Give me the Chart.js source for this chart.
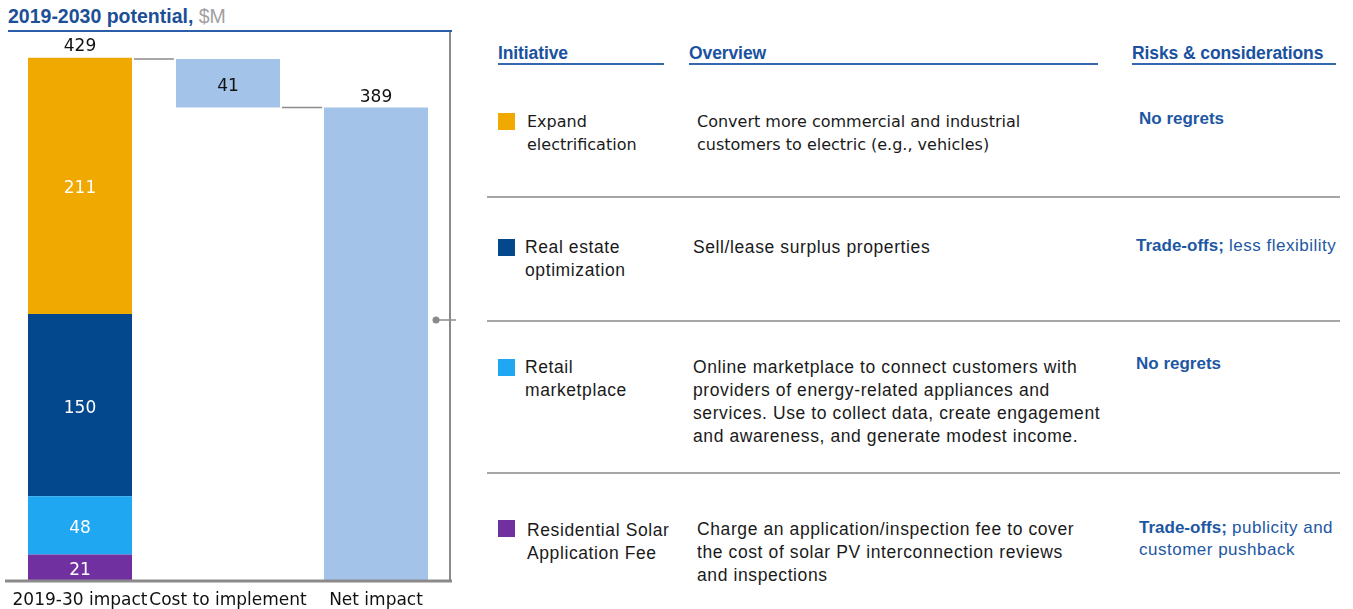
<!DOCTYPE html>
<html><head><meta charset="utf-8">
<script src="https://cdn.jsdelivr.net/npm/chart.js@4/dist/chart.umd.min.js"></script>
<style>
body{margin:0;background:#fff;width:1353px;height:609px;overflow:hidden;position:relative;}
.abs{position:absolute;white-space:nowrap;}
#title{left:8px;top:5px;font:bold 19.5px "Liberation Sans",Arial,sans-serif;color:#1c4f96;letter-spacing:0;}
#title span{font-weight:normal;color:#a0a0a0;}
#tline{left:8px;top:30px;width:444px;height:2px;background:#2a5ea8;}
.hdr{font:bold 17.5px "Liberation Sans",Arial,sans-serif;color:#1a52a0;letter-spacing:-0.1px;top:43px;}
.hline{height:2px;background:#3568b0;top:63px;}
.sep{left:487px;width:853px;height:1.5px;background:#a6a6a6;}
.sq{width:17px;height:17px;}
.txt{font:16px "DejaVu Sans",sans-serif;color:#1a1a1a;line-height:23px;}
.txt2{font:17.5px "Liberation Sans",Arial,sans-serif;color:#1a1a1a;line-height:23px;letter-spacing:0.6px;}
.risk{font:17px "Liberation Sans",Arial,sans-serif;color:#1d57a3;line-height:22px;letter-spacing:0.5px;}
.risk b{font-weight:bold;letter-spacing:0;}
</style></head><body>
<div id="title" class="abs">2019-2030 potential, <span>$M</span></div>
<div id="tline" class="abs"></div>
<canvas id="c" width="460" height="609" style="position:absolute;left:0;top:0;"></canvas>
<div id="table"></div>
<script>
// ---- data ----
const categories = ["2019-30 impact", "Cost to implement", "Net impact"];
const initiativeNames = ["Residential Solar Application Fee", "Retail marketplace", "Real estate optimization", "Expand electrification"];
const initiativeValues = [21, 48, 150, 211];
const initiativeColors = ["#7030a0", "#1fa7f2", "#03488c", "#f0a900"];
const totalImpact = 429;
const costToImplement = 41;
const netImpact = 389;

const tableHeaders = ["Initiative", "Overview", "Risks & considerations"];
// table rows, top to bottom
const rowInitiative = [["Expand", "electrification"], ["Real estate", "optimization"], ["Retail", "marketplace"], ["Residential Solar", "Application Fee"]];
const rowOverview = [
  ["Convert more commercial and industrial", "customers to electric (e.g., vehicles)"],
  ["Sell/lease surplus properties"],
  ["Online marketplace to connect customers with", "providers of energy-related appliances and", "services. Use to collect data, create engagement", "and awareness, and generate modest income."],
  ["Charge an application/inspection fee to cover", "the cost of solar PV interconnection reviews", "and inspections"]
];
const rowRiskBold = ["No regrets", "Trade-offs;", "No regrets", "Trade-offs;"];
const rowRiskRest = ["", " less flexibility", "", " publicity and<br>customer pushback"];
const rowColors = ["#f0a900", "#03488c", "#1fa7f2", "#7030a0"];

// ---- table layout ----
const T = document.getElementById('table');
function add(cls, style, html){const d=document.createElement('div');d.className='abs '+cls;d.setAttribute('style',style);d.innerHTML=html||'';T.appendChild(d);}
const hx = [498, 689, 1132], hw = [166, 409, 204];
tableHeaders.forEach((h,i)=>{add('hdr','left:'+hx[i]+'px;',h.replace('&','&amp;'));add('hline','left:'+hx[i]+'px;width:'+hw[i]+'px;');});
[196, 320, 472].forEach(y=>add('sep','top:'+y+'px;'));
const sqY=[113,239,359,520], iniY=[110,236,356,519], ovY=[110,236,356,518], rkY=[108,235,353,517];
const iniX=[527,525,525,527], ovX=[697,693,693,697], rkX=[1139,1136,1136,1139];
const ovCls=['txt','txt2','txt2','txt2'];
for(let r=0;r<4;r++){
  add('sq','left:498px;top:'+sqY[r]+'px;background:'+rowColors[r]+';');
  add(ovCls[r],'left:'+iniX[r]+'px;top:'+iniY[r]+'px;',rowInitiative[r].join('<br>'));
  add(ovCls[r],'left:'+ovX[r]+'px;top:'+ovY[r]+'px;',rowOverview[r].join('<br>'));
  add('risk','left:'+rkX[r]+'px;top:'+rkY[r]+'px;','<b>'+rowRiskBold[r]+'</b>'+rowRiskRest[r]);
}

// ---- chart ----
const datasets = [];
let cum = 0;
initiativeNames.forEach((n,i)=>{
  const start = cum; cum += initiativeValues[i];
  datasets.push({label:n, data:[[start, cum], null, null], backgroundColor:initiativeColors[i], valueText:String(initiativeValues[i]), textColor:'#fff'});
});
datasets.push({label:'Cost', data:[null, [netImpact, totalImpact], null], backgroundColor:'#a3c3e9', valueText:String(costToImplement), textColor:'#111'});
datasets.push({label:'Net', data:[null, null, [0, netImpact]], backgroundColor:'#a3c3e9', valueText:'', textColor:'#111'});
datasets.forEach(d=>{d.grouped=false;d.barPercentage=0.703;d.categoryPercentage=1;d.borderWidth=0;});

const deco = {
  id:'deco',
  afterDatasetsDraw(chart){
    const ctx=chart.ctx, a=chart.chartArea, y=chart.scales.y;
    ctx.save();
    ctx.textAlign='center';ctx.textBaseline='middle';
    ctx.font='17px "DejaVu Sans"';
    chart.data.datasets.forEach((d,di)=>{
      const meta=chart.getDatasetMeta(di);
      meta.data.forEach((el,i)=>{
        if(!el || d.data[i]==null || !d.valueText) return;
        const p=el.getProps(['x','y','base'],true);
        ctx.fillStyle=d.textColor;
        ctx.fillText(d.valueText,p.x,(p.y+p.base)/2+3);
      });
    });
    // totals above bars
    const m0=chart.getDatasetMeta(3).data[0], m2=chart.getDatasetMeta(5).data[2], m1=chart.getDatasetMeta(4).data[1];
    ctx.fillStyle='#111';
    ctx.fillText(String(totalImpact), m0.x, y.getPixelForValue(totalImpact)-12);
    ctx.fillText(String(netImpact), m2.x, y.getPixelForValue(netImpact)-10);
    // connectors
    ctx.strokeStyle='#8c8c8c';ctx.lineWidth=1.5;
    const w0=m0.width/2;
    ctx.beginPath();
    let yy=y.getPixelForValue(totalImpact);
    ctx.moveTo(m0.x+w0+2,yy);ctx.lineTo(m1.x-m1.width/2-2,yy);
    yy=y.getPixelForValue(netImpact);
    ctx.moveTo(m1.x+m1.width/2+2,yy);ctx.lineTo(m2.x-m2.width/2-2,yy);
    ctx.stroke();
    // frame
    ctx.strokeStyle='#8a8a8a';ctx.lineWidth=2;
    ctx.beginPath();ctx.moveTo(a.right,32);ctx.lineTo(a.right,a.bottom);ctx.stroke();
    ctx.lineWidth=3;
    ctx.beginPath();ctx.moveTo(5,a.bottom+1);ctx.lineTo(452,a.bottom+1);ctx.stroke();
    // bracket dot
    ctx.fillStyle='#8a8a8a';ctx.strokeStyle='#8a8a8a';ctx.lineWidth=1.5;
    ctx.beginPath();ctx.arc(436,320,3.5,0,Math.PI*2);ctx.fill();
    ctx.beginPath();ctx.moveTo(436,320);ctx.lineTo(456,320);ctx.stroke();
    ctx.restore();
  }
};

new Chart(document.getElementById('c'), {
  type:'bar',
  data:{labels:categories, datasets},
  options:{
    responsive:false, animation:false,
    layout:{padding:{left:6,right:10,top:33.5,bottom:0}},
    plugins:{legend:{display:false},tooltip:{enabled:false}},
    scales:{
      x:{grid:{display:false,drawTicks:false},border:{display:false},
         ticks:{font:{family:'DejaVu Sans',size:17},color:'#111',padding:10,autoSkip:false,maxRotation:0,minRotation:0},
         afterFit(s){s.height=29;}},
      y:{display:false,min:0,max:450}
    }
  },
  plugins:[deco]
});
</script>
</body></html>
